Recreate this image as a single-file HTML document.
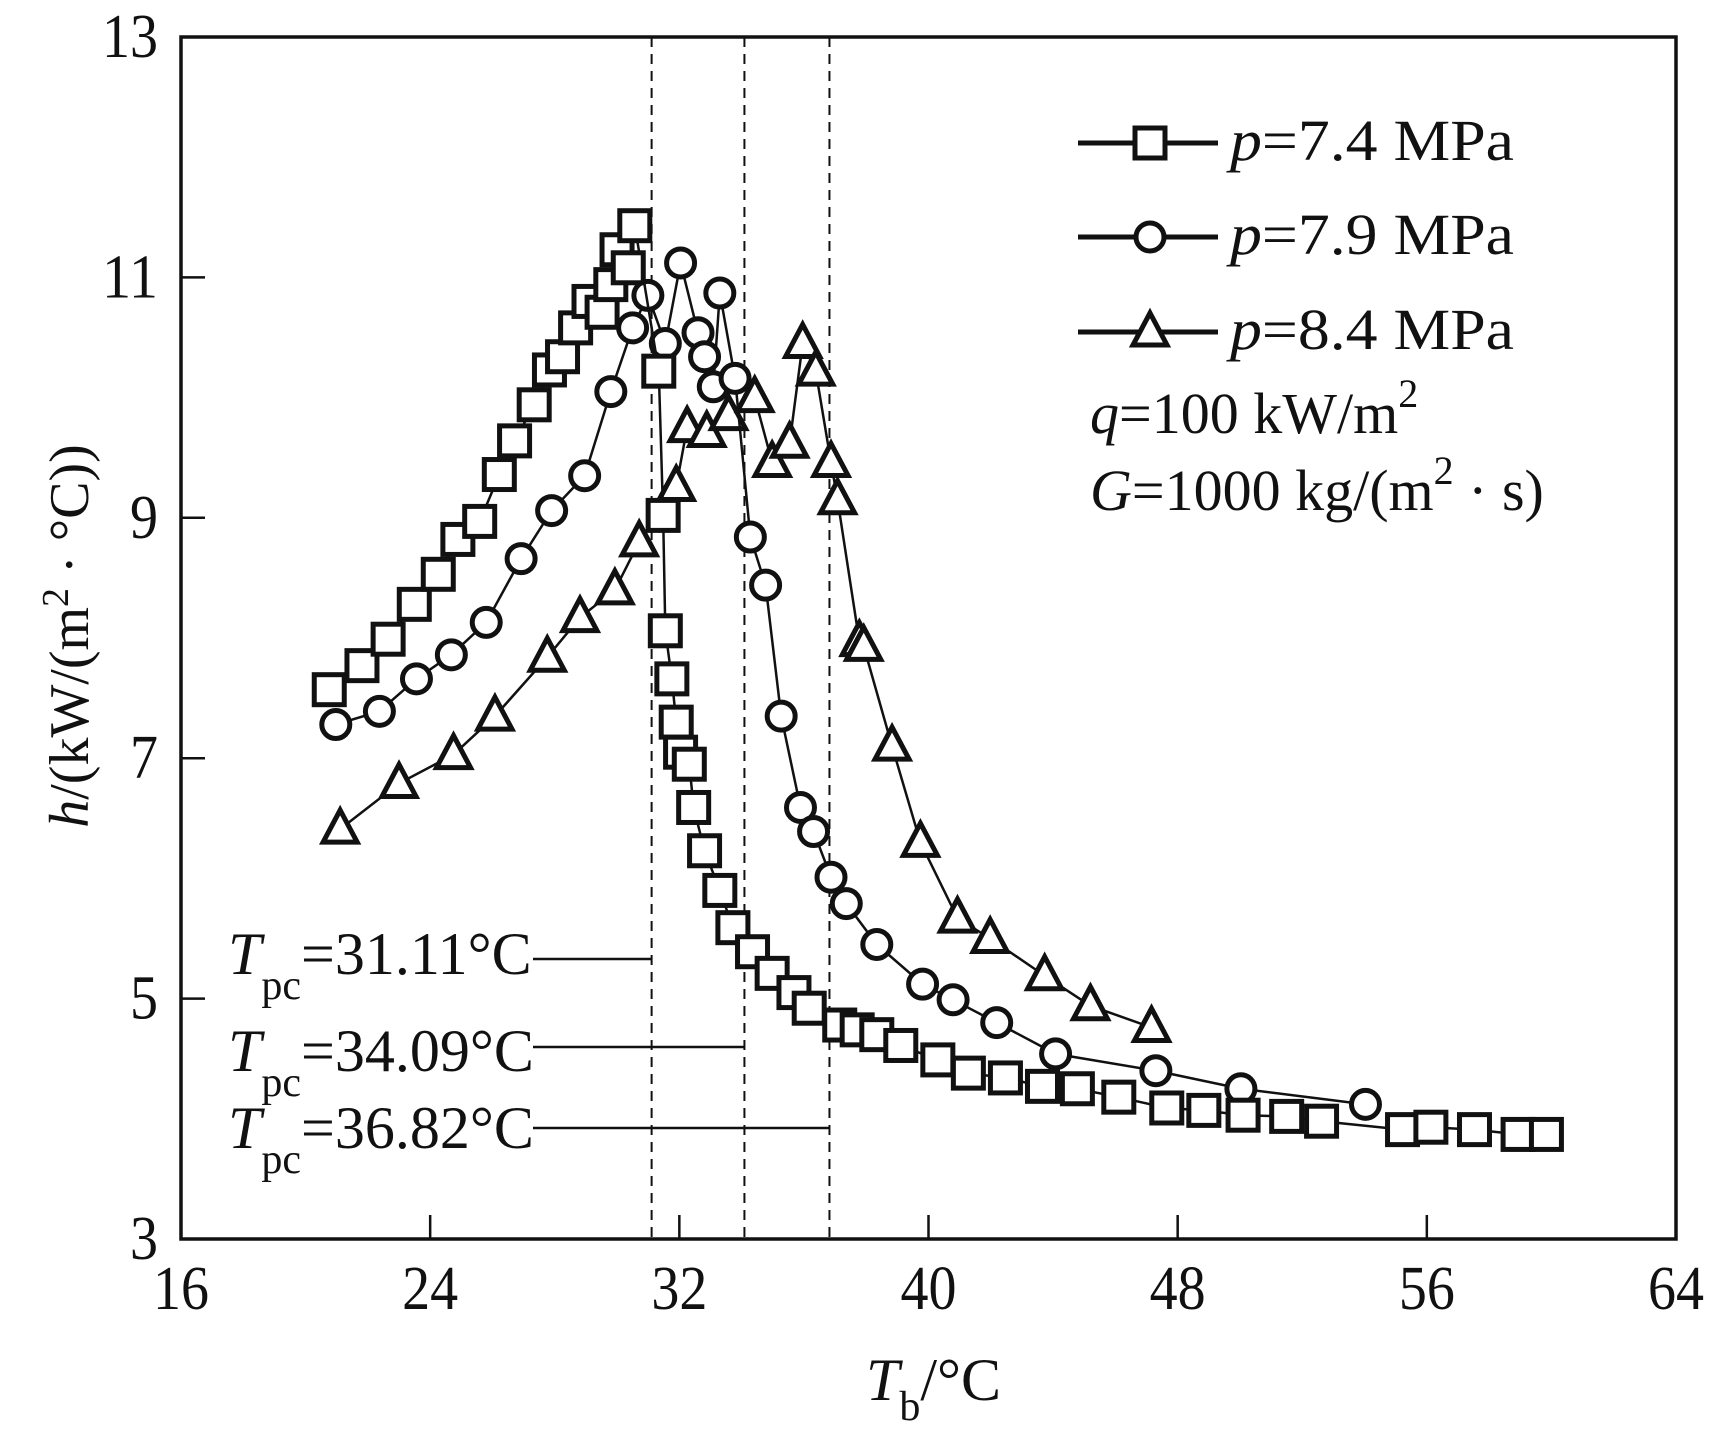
<!DOCTYPE html>
<html><head><meta charset="utf-8"><style>
html,body{margin:0;padding:0;background:#fff;}
svg{display:block;}
text{font-family:"Liberation Serif",serif;fill:#111;}
</style></head><body>
<svg id="chart" width="1710" height="1429" viewBox="0 0 1710 1429" xmlns="http://www.w3.org/2000/svg">
<g id="plot"></g>
</svg>
<script>
const xTicks=[16,24,32,40,48,56,64];
const yTicks=[3,5,7,9,11,13];
const tpcValues=[31.11,34.09,36.82];
const tpcLabels=["31.11","34.09","36.82"];
const s74x=[20.76,21.81,22.65,23.49,24.26,24.89,25.59,26.22,26.71,27.34,27.83,28.25,28.67,29.10,29.52,29.80,30.0,30.36,30.57,31.34,31.48,31.55,31.76,31.90,32.04,32.32,32.46,32.81,33.30,33.72,34.35,34.98,35.68,36.17,37.15,37.71,38.34,39.11,40.30,41.28,42.47,43.66,44.78,46.11,47.65,48.84,50.10,51.50,52.62,55.22,56.13,57.53,58.93,59.84];
const s74y=[7.57,7.77,7.99,8.28,8.53,8.82,8.97,9.36,9.64,9.94,10.23,10.34,10.58,10.80,10.71,10.94,11.23,11.08,11.43,10.22,9.02,8.06,7.66,7.30,7.05,6.95,6.59,6.23,5.90,5.59,5.39,5.21,5.05,4.92,4.78,4.74,4.70,4.61,4.49,4.38,4.34,4.27,4.25,4.18,4.09,4.07,4.03,4.02,3.98,3.91,3.93,3.91,3.87,3.87];
const s79x=[20.97,22.37,23.56,24.68,25.80,26.92,27.90,28.96,29.80,30.50,30.99,31.55,32.04,32.60,32.81,33.09,33.30,33.79,34.28,34.77,35.27,35.89,36.31,36.87,37.36,38.34,39.81,40.79,42.19,44.08,47.30,50.03,54.03];
const s79y=[7.28,7.39,7.66,7.86,8.13,8.66,9.06,9.35,10.05,10.58,10.85,10.45,11.12,10.54,10.34,10.09,10.87,10.16,8.84,8.44,7.35,6.59,6.39,6.01,5.79,5.45,5.12,4.99,4.80,4.54,4.40,4.25,4.12];
const s84x=[21.11,23.0,24.75,26.08,27.76,28.81,29.93,30.71,31.90,32.25,32.88,33.58,34.42,34.98,35.54,35.96,36.38,36.87,37.08,37.78,37.92,38.83,39.74,40.93,41.98,43.73,45.20,47.16];
const s84y=[6.41,6.79,7.03,7.35,7.84,8.17,8.40,8.80,9.26,9.75,9.71,9.85,10.0,9.46,9.62,10.45,10.22,9.46,9.15,7.97,7.93,7.10,6.30,5.67,5.50,5.19,4.94,4.76];

const NS="http://www.w3.org/2000/svg";
const g=document.getElementById('plot');
const X0=181,X1=1676,Y0=1239,Y1=37;
function X(v){return X0+(v-16)*(X1-X0)/48;}
function Y(v){return Y0-(v-3)*(Y0-Y1)/10;}
function el(tag,attrs,parent){const e=document.createElementNS(NS,tag);for(const k in attrs)e.setAttribute(k,attrs[k]);(parent||g).appendChild(e);return e;}
function txt(x,y,s,size,extra){const t=el('text',Object.assign({x:x,y:y,'font-size':size},extra||{}));t.textContent=s;return t;}

tpcValues.forEach((v,i)=>{
  const l=el('line',{x1:X(v),x2:X(v),y1:Y1,y2:Y0,stroke:'#111','stroke-width':2,'stroke-dasharray':'10,7'});
  
  
});
const tpcBase=[974,1071,1148];
const tpcLineY=[959,1047,1128];
tpcValues.forEach((v,i)=>{
  const t=el('text',{x:228,y:tpcBase[i],'font-size':60});
  
  
  const a=el('tspan',{'font-style':'italic'},t);a.textContent='T';
  const b=el('tspan',{'font-size':42,dy:25},t);b.textContent='pc';
  const c=el('tspan',{dy:-25},t);c.textContent='='+tpcLabels[i]+'°C';
  const l=el('line',{x1:533,x2:X(v),y1:tpcLineY[i],y2:tpcLineY[i],stroke:'#111','stroke-width':2.5});
  
  
});

const fr=el('rect',{x:X0,y:Y1,width:X1-X0,height:Y0-Y1,fill:'none',stroke:'#111','stroke-width':3.5});


xTicks.forEach(v=>{
  if(v>16&&v<64){const l=el('line',{x1:X(v),x2:X(v),y1:Y0,y2:Y0-24,stroke:'#111','stroke-width':2.5});
  }
  const t=txt(X(v),1309,String(v),62,{'text-anchor':'middle',textLength:56,lengthAdjust:'spacingAndGlyphs'});
  
  
});
yTicks.forEach(v=>{
  if(v>3&&v<13){const l=el('line',{x1:X0,x2:X0+24,y1:Y(v),y2:Y(v),stroke:'#111','stroke-width':2.5});
  }
  const s=String(v);
  const t=txt(158,Y(v)+20,s,62,{'text-anchor':'end',textLength:28*s.length,lengthAdjust:'spacingAndGlyphs'});
  
  
});
const xt=el('text',{x:866,y:1400,'font-size':60});


let a=el('tspan',{'font-style':'italic'},xt);a.textContent='T';
a=el('tspan',{'font-size':42,dy:20},xt);a.textContent='b';
a=el('tspan',{dy:-20},xt);a.textContent='/°C';
const yt=el('text',{x:0,y:0,'font-size':56,transform:'translate(88,636) rotate(-90)','text-anchor':'middle'});


a=el('tspan',{'font-style':'italic'},yt);a.textContent='h';
a=el('tspan',{},yt);a.textContent='/(kW/(m';
a=el('tspan',{'font-size':38,dy:-20},yt);a.textContent='2';
a=el('tspan',{dy:20},yt);a.textContent=' · °C))';

function marker(type,x,y,parent){
  let m;
  if(type==='sq') m=el('rect',{x:x-15,y:y-15,width:30,height:30,fill:'#fff',stroke:'#111','stroke-width':5},parent);
  else if(type==='ci') m=el('circle',{cx:x,cy:y,r:14,fill:'#fff',stroke:'#111','stroke-width':5},parent);
  else m=el('polygon',{points:`${x},${y-19} ${x+17},${y+13} ${x-17},${y+13}`,fill:'#fff',stroke:'#111','stroke-width':5,'stroke-linejoin':'miter'},parent);
  return m;
}
function series(xs,ys,type,name){
  const grp=el('g',{});
  
  
  const pl=el('polyline',{points:xs.map((v,i)=>X(v)+','+Y(ys[i])).join(' '),fill:'none',stroke:'#111','stroke-width':2.5},grp);
  
  
  xs.forEach((v,i)=>{
    const m=marker(type,X(v),Y(ys[i]),grp);
    
    
  });
}
series(s84x,s84y,'tr','series-8-4-mpa');
series(s79x,s79y,'ci','series-7-9-mpa');
series(s74x,s74y,'sq','series-7-4-mpa');

const legY=[143,237,332];
const legT=['7.4','7.9','8.4'];
const legM=['sq','ci','tr'];
legY.forEach((y,i)=>{
  const lg=el('g',{});
  
  
  el('line',{x1:1078,x2:1218,y1:y,y2:y,stroke:'#111','stroke-width':5},lg);
  marker(legM[i],1150,y,lg);
  const t=el('text',{x:1230,y:y+17,'font-size':58,textLength:284,lengthAdjust:'spacingAndGlyphs'},lg);
  const p=el('tspan',{'font-style':'italic'},t);p.textContent='p';
  const r=el('tspan',{},t);r.textContent='='+legT[i]+' MPa';
});
const qt=el('text',{x:1090,y:433,'font-size':58});


a=el('tspan',{'font-style':'italic'},qt);a.textContent='q';
a=el('tspan',{},qt);a.textContent='=100 kW/m';
a=el('tspan',{'font-size':40,dy:-26},qt);a.textContent='2';
const gt=el('text',{x:1090,y:510,'font-size':58});


a=el('tspan',{'font-style':'italic'},gt);a.textContent='G';
a=el('tspan',{},gt);a.textContent='=1000 kg/(m';
a=el('tspan',{'font-size':40,dy:-26},gt);a.textContent='2';
a=el('tspan',{dy:26},gt);a.textContent=' · s)';
</script>
</body></html>
